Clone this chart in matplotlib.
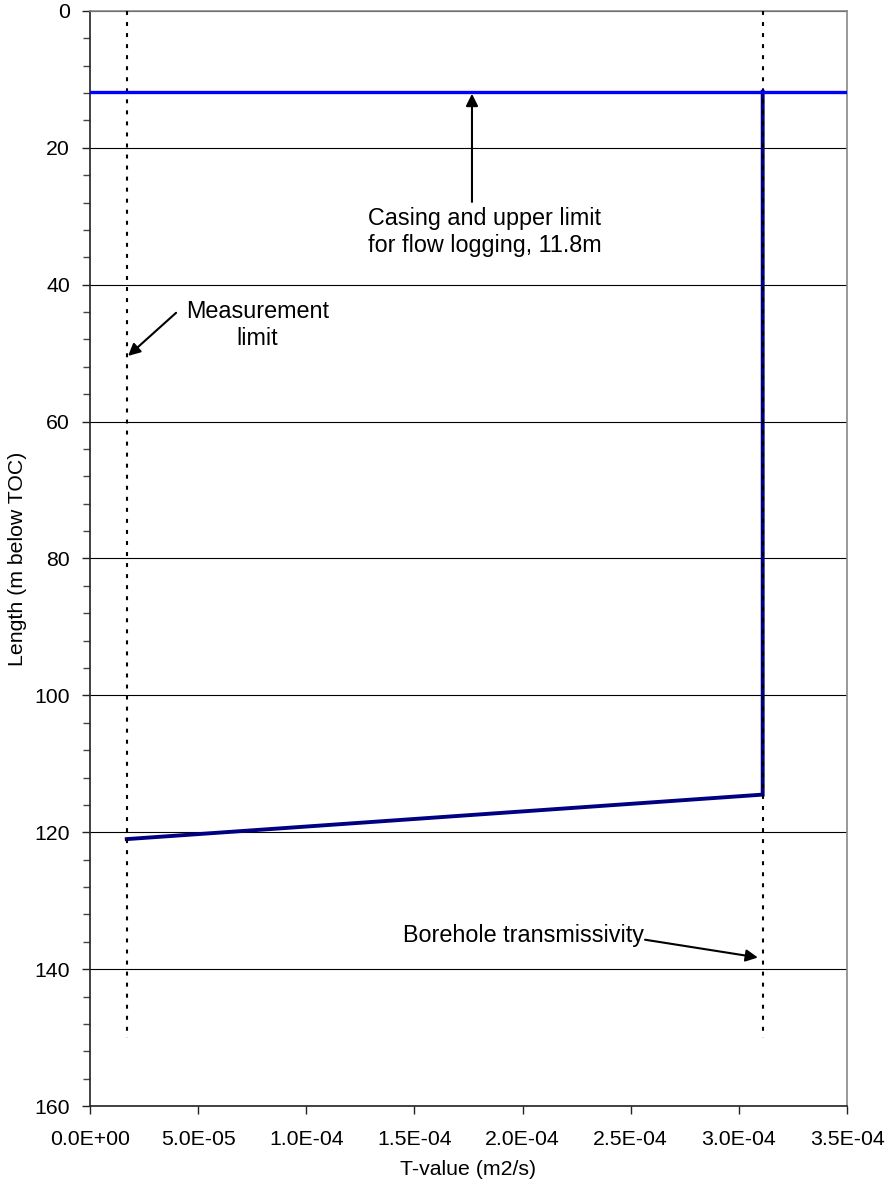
import matplotlib
matplotlib.use("Agg")
import matplotlib.pyplot as plt
from matplotlib.ticker import MultipleLocator, FuncFormatter

plt.rcParams['font.family'] = ['Liberation Sans', 'DejaVu Sans']

# data
casing_depth = 11.8
casing_x = [0.0, 3.5e-4]
meas_limit_T = 1.7e-5
borehole_T = 3.11e-4
ref_depth = [0, 150]
profile_T = [3.11e-4, 3.11e-4, 1.7e-5]
profile_depth = [11.8, 114.5, 121.0]

fig = plt.figure(figsize=(8.85, 11.8), dpi=100)
ax = fig.add_axes([0.1017, 0.0627, 0.9571 - 0.1017, 0.9907 - 0.0627])

# T profile
ax.plot(profile_T, profile_depth, color='#000080', lw=2.8, zorder=2,
        solid_joinstyle='miter')
# measurement limit and borehole transmissivity (dotted)
ax.plot([meas_limit_T, meas_limit_T], ref_depth, color='black', lw=1.5,
        dashes=(1.9, 3.4), zorder=3)
ax.plot([borehole_T, borehole_T], ref_depth, color='black', lw=1.5,
        dashes=(1.9, 3.4), zorder=3)
# casing
ax.plot(casing_x, [casing_depth, casing_depth], color='#0000FF', lw=2.4, zorder=4)

ax.set_xlim(0, 3.5e-4)
ax.set_ylim(160, 0)
ax.yaxis.set_major_locator(MultipleLocator(20))
ax.yaxis.set_minor_locator(MultipleLocator(4))
ax.xaxis.set_major_locator(MultipleLocator(5e-5))
ax.xaxis.set_major_formatter(FuncFormatter(lambda v, p: f"{v:.1E}"))
ax.grid(axis='y', which='major', color='black', lw=0.8, zorder=1)

ax.tick_params(axis='both', which='major', labelsize=15.3, length=6, width=1, color='#222222')
ax.tick_params(axis='x', which='major', pad=11)
ax.tick_params(axis='y', which='major', pad=8.5)
ax.tick_params(axis='y', which='minor', length=5, width=1, color='#444444')
for s in ['left', 'bottom']:
    ax.spines[s].set_color('#222222')
    ax.spines[s].set_linewidth(1.2)
for s in ['top', 'right']:
    ax.spines[s].set_color('#888888')
    ax.spines[s].set_linewidth(1.2)

ax.set_xlabel('T-value (m2/s)', fontsize=15.3, labelpad=8)
ax.set_ylabel('Length (m below TOC)', fontsize=15.3, labelpad=5)

arrow = dict(arrowstyle='-|>', color='black', lw=1.5, mutation_scale=18, shrinkA=0, shrinkB=0)

ax.text(1.826e-4, 32.3, 'Casing and upper limit\nfor flow logging, 11.8m',
        ha='center', va='center', fontsize=16.8, linespacing=1.25)
ax.annotate('', xy=(1.766e-4, 12.1), xytext=(1.766e-4, 27.9), arrowprops=arrow)

ax.text(0.774e-4, 45.9, 'Measurement\nlimit', ha='center', va='center',
        fontsize=16.8, linespacing=1.25)
ax.annotate('', xy=(0.176e-4, 50.4), xytext=(0.398e-4, 44.1), arrowprops=arrow)

ax.text(1.447e-4, 135.1, 'Borehole transmissivity', ha='left', va='center', fontsize=16.8)
ax.annotate('', xy=(3.088e-4, 138.3), xytext=(2.566e-4, 135.7), arrowprops=arrow)

fig.savefig('out.png', dpi=100)
